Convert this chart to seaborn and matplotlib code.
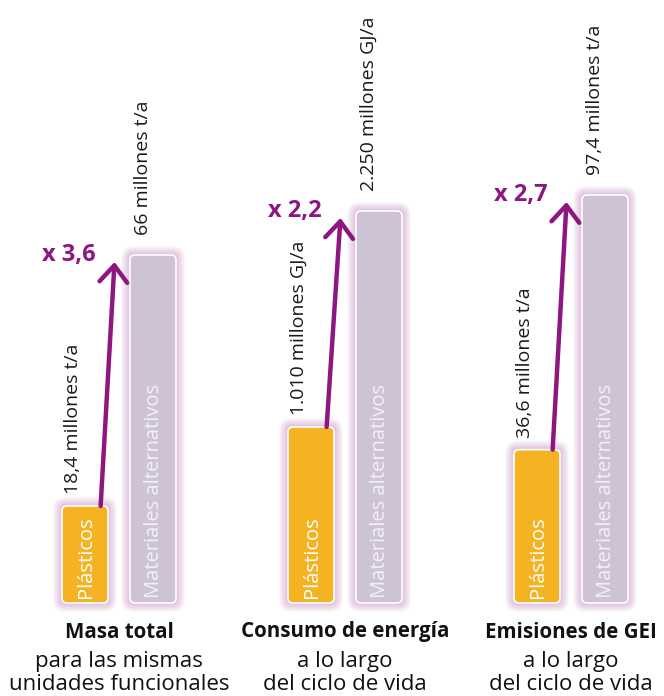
import matplotlib
matplotlib.use("Agg")
import matplotlib.pyplot as plt
import seaborn as sns
import pandas as pd
from matplotlib.patches import FancyBboxPatch

# ---------------- data ----------------
categories = ["Plásticos", "Materiales alternativos"]
group_titles = ["Masa total", "Consumo de energía", "Emisiones de GEI"]
group_subtitles = ["para las mismas\nunidades funcionales",
                   "a lo largo\ndel ciclo de vida",
                   "a lo largo\ndel ciclo de vida"]
plastic_values = [18.4, 1010, 36.6]
alternative_values = [66, 2250, 97.4]
plastic_labels = ["18,4 millones t/a", "1.010 millones GJ/a", "36,6 millones t/a"]
alternative_labels = ["66 millones t/a", "2.250 millones GJ/a", "97,4 millones t/a"]
multipliers = ["x 3,6", "x 2,2", "x 2,7"]

# ---------------- style ----------------
sns.set_theme(style="white")
FONT = ["Open Sans", "DejaVu Sans"]
plt.rcParams["font.family"] = FONT

ORANGE = "#F5B324"
LAVENDER = "#CDC3D5"
PURPLE = "#8E1680"
GLOW = "#A8439C"

W, H = 664, 696
fig = plt.figure(figsize=(W / 100, H / 100), dpi=100)

base_px = 603            # y pixel of bar baseline (from top)
first_center_px = [85, 311, 537]
alt_px_height = [348, 392, 408]
unit_px = 68             # px per categorical unit

for i in range(3):
    left = first_center_px[i] - unit_px / 2
    ax = fig.add_axes([left / W, (H - base_px) / H, 2 * unit_px / W, base_px / H])
    ymax = alternative_values[i] * base_px / alt_px_height[i]
    df = pd.DataFrame({"cat": categories,
                       "val": [plastic_values[i], alternative_values[i]]})
    sns.barplot(data=df, x="cat", y="val", hue="cat", order=categories,
                hue_order=categories, palette=[ORANGE, LAVENDER],
                width=46 / unit_px, ax=ax, legend=False, saturation=1)
    ax.set_xlim(-0.5, 1.5)
    ax.set_ylim(0, ymax)
    ax.set_axis_off()

    # rounded bars with glow
    xpp = 2 / (2 * unit_px)        # x data units per px
    ypp = ymax / base_px           # y data units per px
    aspect = ypp / xpp
    bars = list(ax.patches)
    for p, col in zip(bars, [ORANGE, LAVENDER]):
        x0, y0, w, h = p.get_x(), p.get_y(), p.get_width(), p.get_height()
        p.remove()
        for k in range(9, 0, -1):
            g = FancyBboxPatch((x0, y0), w, h,
                               boxstyle=f"round,pad={k * xpp},rounding_size={(4 + k) * xpp}",
                               mutation_aspect=aspect, facecolor=GLOW,
                               edgecolor="none", alpha=0.04, clip_on=False, zorder=1)
            ax.add_patch(g)
        b = FancyBboxPatch((x0, y0), w, h,
                           boxstyle=f"round,pad=0,rounding_size={5 * xpp}",
                           mutation_aspect=aspect, facecolor=col,
                           edgecolor="white", linewidth=1.2, clip_on=False, zorder=2)
        ax.add_patch(b)

    # in-bar labels
    ax.annotate("Plásticos", xy=(0, 0), xytext=(1, 5), textcoords="offset pixels",
                rotation=90, ha="center", va="bottom", color="white",
                fontsize=14.5, zorder=3)
    ax.annotate("Materiales alternativos", xy=(1, 0), xytext=(1, 5),
                textcoords="offset pixels", rotation=90, ha="center", va="bottom",
                color="#F3F0F6", fontsize=14.5, zorder=3)

    # value labels above bars
    ax.annotate(plastic_labels[i], xy=(0, plastic_values[i]), xytext=(-12, 12),
                textcoords="offset pixels", rotation=90, ha="center", va="bottom",
                color="#1a1a1a", fontsize=14, annotation_clip=False)
    ax.annotate(alternative_labels[i], xy=(1, alternative_values[i]), xytext=(-10, 20),
                textcoords="offset pixels", rotation=90, ha="center", va="bottom",
                color="#1a1a1a", fontsize=14, annotation_clip=False)

    # growth arrow
    ax.annotate("", xy=(0.44, alternative_values[i]), xytext=(0.23, plastic_values[i]),
                xycoords="data", textcoords="data", annotation_clip=False,
                arrowprops=dict(arrowstyle="->,head_length=0.6,head_width=0.5",
                                color=PURPLE, lw=3.2, mutation_scale=20,
                                shrinkA=0, shrinkB=-5, capstyle="round",
                                joinstyle="round"))
    ax.annotate(multipliers[i], xy=(0.44, alternative_values[i]), xytext=(-19, 0),
                textcoords="offset pixels", ha="right", va="center",
                color=PURPLE, fontsize=17, fontweight="bold", annotation_clip=False)

    # group titles
    ax.annotate(group_titles[i], xy=(0.5, 0), xytext=(0, -29),
                textcoords="offset pixels", ha="center", va="center",
                fontsize=14.8, fontweight="bold", color="#111111",
                annotation_clip=False)
    ax.annotate(group_subtitles[i], xy=(0.5, 0), xytext=(0, -70),
                textcoords="offset pixels", ha="center", va="center",
                fontsize=16, color="#111111", linespacing=1.1,
                annotation_clip=False)

fig.savefig("out.png", dpi=100, facecolor="white")
